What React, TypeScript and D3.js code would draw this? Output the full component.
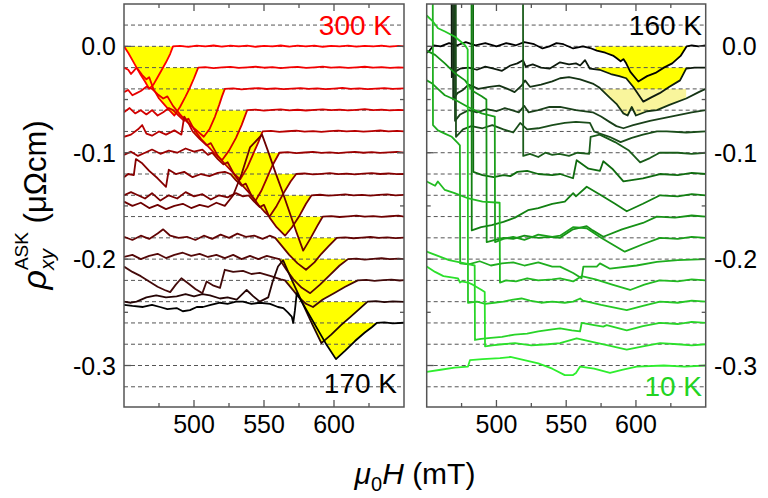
import React from "react";
import * as d3 from "d3";

type P = [number, number];

// ---------- axes / labels ----------
const xMajor = [500, 550, 600];
const xMinor = [475, 525, 575, 625];
const yMajor = [0, -0.1, -0.2, -0.3];
const yTickLabels = ["0.0", "-0.1", "-0.2", "-0.3"];
const dashLevels = [0.02, 0, -0.02, -0.04, -0.06, -0.08, -0.1, -0.12, -0.14, -0.16, -0.18, -0.2, -0.22, -0.24, -0.26, -0.28, -0.3, -0.32];

// ---------- left panel (300 K ... 170 K) ----------
const leftTemps = [300, 290, 280, 270, 260, 250, 240, 230, 220, 210, 200, 190, 180, 170];
const leftBase = [0, -0.02, -0.04, -0.06, -0.08, -0.1, -0.12, -0.14, -0.16, -0.18, -0.2, -0.22, -0.24, -0.26];
const leftColors = ["#ff0000", "#f20000", "#e60000", "#d40000", "#b80000", "#9a0000", "#860000", "#780000", "#6e0000", "#620404", "#540808", "#440a0a", "#260505", "#000000"];
const leftFillFrom = [450, 459, 470, 485, 499, 513, 526, 539, 552, 558, 561, 565, 572, 580];
const leftFillTo = [485, 503, 522, 538, 549, 561, 573, 584, 592, 602, 610, 617, 624, 631];

const L300: P[] = [[450,0.0],[453,-0.006],[456,-0.013],[459,-0.02],[462,-0.027],[465,-0.033],[468,-0.04],[471,-0.036],[474,-0.029],[477,-0.022],[480,-0.015],[483,-0.007],[485,0.0],[490,0.0005],[496,-0.0005],[502,0.0007],[508,0.0],[514,0.0008],[520,-0.0003],[526,0.0006],[532,0.0],[538,0.0007],[544,-0.0004],[550,0.0005],[556,0.0],[562,0.0008],[568,-0.0002],[574,0.0006],[580,0.0],[586,0.0007],[592,-0.0004],[598,0.0005],[604,0.0],[610,0.0006],[616,-0.0003],[622,0.0005],[628,0.0],[634,0.0007],[640,-0.0002],[646,0.0004],[650,0.0]];
const L290: P[] = [[450,-0.02],[453,-0.022],[455,-0.026],[457,-0.023],[459,-0.02],[463,-0.027],[466,-0.031],[468,-0.029],[471,-0.04],[475,-0.049],[479,-0.055],[483,-0.061],[486,-0.065],[490,-0.057],[494,-0.047],[497,-0.039],[500,-0.03],[503,-0.02],[508,-0.0195],[514,-0.0205],[520,-0.0198],[526,-0.0193],[532,-0.0203],[538,-0.0197],[544,-0.0192],[550,-0.0201],[556,-0.0196],[562,-0.0204],[568,-0.0198],[574,-0.0193],[580,-0.0202],[586,-0.0197],[592,-0.0191],[598,-0.02],[604,-0.0195],[610,-0.0203],[616,-0.0197],[622,-0.0192],[628,-0.02],[634,-0.0196],[640,-0.0202],[646,-0.0197],[650,-0.02]];
const L280: P[] = [[450,-0.043],[453,-0.041],[456,-0.046],[459,-0.044],[462,-0.042],[466,-0.038],[470,-0.04],[474,-0.045],[478,-0.049],[481,-0.047],[485,-0.056],[490,-0.064],[495,-0.071],[500,-0.077],[507,-0.085],[511,-0.078],[515,-0.066],[518,-0.055],[520,-0.047],[522,-0.04],[528,-0.0395],[534,-0.0404],[540,-0.0398],[546,-0.0392],[552,-0.0401],[558,-0.0396],[564,-0.0403],[570,-0.0397],[576,-0.0392],[582,-0.04],[588,-0.0395],[594,-0.0402],[600,-0.0397],[606,-0.0391],[612,-0.04],[618,-0.0395],[624,-0.0402],[630,-0.0397],[636,-0.0393],[642,-0.04],[650,-0.0396]];
const L270: P[] = [[450,-0.062],[454,-0.058],[458,-0.063],[462,-0.06],[466,-0.064],[470,-0.06],[474,-0.065],[478,-0.062],[482,-0.058],[485,-0.06],[489,-0.065],[493,-0.07],[496,-0.068],[500,-0.078],[505,-0.087],[510,-0.094],[515,-0.101],[520,-0.107],[525,-0.098],[530,-0.086],[534,-0.074],[538,-0.06],[544,-0.0595],[550,-0.0604],[556,-0.0598],[562,-0.0592],[568,-0.0601],[574,-0.0596],[580,-0.0603],[586,-0.0597],[592,-0.0592],[598,-0.06],[604,-0.0595],[610,-0.0602],[616,-0.0597],[622,-0.0591],[628,-0.06],[634,-0.0595],[640,-0.0602],[646,-0.0597],[650,-0.06]];
const L260: P[] = [[450,-0.085],[455,-0.083],[460,-0.078],[463,-0.074],[466,-0.082],[470,-0.084],[475,-0.08],[480,-0.083],[486,-0.079],[491,-0.083],[493,-0.066],[496,-0.072],[499,-0.08],[504,-0.087],[509,-0.093],[512,-0.091],[517,-0.103],[523,-0.112],[528,-0.119],[533,-0.125],[538,-0.114],[542,-0.102],[546,-0.09],[549,-0.08],[555,-0.0795],[561,-0.0804],[567,-0.0798],[573,-0.0792],[579,-0.0801],[585,-0.0796],[591,-0.0803],[597,-0.0797],[603,-0.0792],[609,-0.08],[615,-0.0795],[621,-0.0802],[627,-0.0797],[633,-0.0791],[639,-0.08],[645,-0.0795],[650,-0.08]];
const L250: P[] = [[450,-0.102],[455,-0.099],[460,-0.103],[465,-0.1],[470,-0.097],[476,-0.101],[482,-0.098],[488,-0.1],[494,-0.096],[500,-0.099],[506,-0.097],[510,-0.102],[513,-0.1],[517,-0.106],[521,-0.111],[524,-0.109],[529,-0.121],[534,-0.13],[539,-0.137],[544,-0.145],[548,-0.136],[552,-0.124],[556,-0.112],[561,-0.1],[567,-0.0995],[573,-0.1004],[579,-0.0998],[585,-0.0992],[591,-0.1001],[597,-0.0996],[603,-0.1003],[609,-0.0997],[615,-0.0992],[621,-0.1],[627,-0.0995],[633,-0.1002],[639,-0.0997],[645,-0.0992],[650,-0.1]];
const L240: P[] = [[450,-0.123],[453,-0.12],[457,-0.121],[458.5,-0.106],[463,-0.11],[468,-0.117],[474,-0.124],[480,-0.132],[482,-0.116],[487,-0.12],[493,-0.118],[499,-0.123],[505,-0.12],[511,-0.122],[517,-0.119],[522,-0.118],[526,-0.12],[530,-0.126],[534,-0.131],[537,-0.129],[541,-0.14],[546,-0.149],[550,-0.155],[554,-0.16],[559,-0.15],[564,-0.138],[569,-0.127],[573,-0.12],[579,-0.1195],[585,-0.1204],[591,-0.1198],[597,-0.1192],[603,-0.1201],[609,-0.1196],[615,-0.1203],[621,-0.1197],[627,-0.1192],[633,-0.12],[639,-0.1195],[645,-0.1202],[650,-0.12]];
const L230: P[] = [[450,-0.14],[455,-0.137],[460,-0.14],[465,-0.143],[470,-0.138],[476,-0.145],[482,-0.14],[488,-0.143],[494,-0.137],[500,-0.141],[506,-0.139],[512,-0.144],[518,-0.14],[524,-0.142],[530,-0.138],[535,-0.141],[539,-0.14],[543,-0.146],[547,-0.151],[550,-0.149],[554,-0.161],[559,-0.17],[565,-0.178],[570,-0.17],[575,-0.16],[580,-0.148],[584,-0.14],[590,-0.1395],[596,-0.1404],[602,-0.1398],[608,-0.1392],[614,-0.1401],[620,-0.1396],[626,-0.1403],[632,-0.1397],[638,-0.1392],[644,-0.14],[650,-0.1396]];
const L220: P[] = [[450,-0.146],[456,-0.15],[462,-0.147],[468,-0.152],[474,-0.149],[480,-0.153],[486,-0.15],[492,-0.148],[498,-0.152],[504,-0.149],[510,-0.151],[516,-0.147],[522,-0.15],[528,-0.14],[534,-0.12],[540,-0.095],[548.6,-0.083],[553,-0.099],[558,-0.118],[563,-0.136],[568,-0.155],[573,-0.174],[578,-0.192],[583,-0.181],[588,-0.169],[592,-0.16],[598,-0.1595],[604,-0.1604],[610,-0.1598],[616,-0.1592],[622,-0.1601],[628,-0.1596],[634,-0.1603],[640,-0.1597],[646,-0.1592],[650,-0.16]];
const L210: P[] = [[450,-0.179],[456,-0.182],[462,-0.178],[468,-0.181],[474,-0.176],[478,-0.172],[483,-0.178],[489,-0.18],[495,-0.179],[501,-0.182],[507,-0.178],[513,-0.181],[519,-0.177],[525,-0.18],[531,-0.176],[537,-0.179],[543,-0.178],[549,-0.181],[554,-0.178],[558,-0.18],[563,-0.188],[568,-0.196],[574,-0.204],[580,-0.21],[586,-0.203],[591,-0.195],[596,-0.188],[602,-0.18],[608,-0.1795],[614,-0.1804],[620,-0.1798],[626,-0.1792],[632,-0.1801],[638,-0.1796],[644,-0.1803],[650,-0.1797]];
const L200: P[] = [[450,-0.198],[456,-0.196],[462,-0.2],[468,-0.197],[474,-0.195],[480,-0.199],[486,-0.196],[492,-0.194],[498,-0.197],[504,-0.195],[510,-0.198],[516,-0.196],[522,-0.199],[528,-0.196],[534,-0.2],[540,-0.197],[546,-0.2],[552,-0.197],[558,-0.199],[561,-0.2],[566,-0.21],[571,-0.219],[577,-0.227],[583,-0.232],[590,-0.224],[597,-0.215],[604,-0.206],[610,-0.2],[616,-0.1995],[622,-0.2004],[628,-0.1998],[634,-0.1992],[640,-0.2001],[646,-0.1996],[650,-0.2]];
const L190: P[] = [[450,-0.207],[456,-0.212],[462,-0.216],[468,-0.221],[474,-0.226],[479,-0.229],[483,-0.231],[487,-0.224],[491,-0.218],[496,-0.223],[501,-0.228],[506,-0.232],[509,-0.221],[514,-0.225],[518.6,-0.227],[522,-0.21],[528,-0.212],[535,-0.211],[541,-0.214],[547,-0.213],[555,-0.216],[562,-0.219],[565,-0.22],[570,-0.228],[575,-0.236],[580,-0.242],[585,-0.245],[592,-0.238],[600,-0.232],[608,-0.226],[617,-0.22],[623,-0.2195],[629,-0.2204],[635,-0.2198],[641,-0.2192],[647,-0.2201],[650,-0.2197]];
const L180: P[] = [[450,-0.24],[455,-0.241],[459,-0.24],[466,-0.236],[473,-0.234],[480,-0.236],[487.6,-0.235],[494,-0.233],[500,-0.235],[506,-0.233],[511.4,-0.234],[518.6,-0.237],[524,-0.236],[530.5,-0.238],[537.6,-0.229],[542.4,-0.235],[547,-0.24],[553,-0.236],[556,-0.222],[560,-0.207],[563.6,-0.201],[570,-0.22],[577,-0.24],[584,-0.26],[591,-0.279],[598,-0.271],[605,-0.262],[612,-0.254],[618,-0.247],[624,-0.24],[630,-0.2395],[636,-0.2404],[642,-0.2398],[650,-0.2402]];
const L170: P[] = [[450,-0.243],[456,-0.244],[463.6,-0.245],[470,-0.243],[475.7,-0.245],[481,-0.247],[487.6,-0.246],[492,-0.249],[497.1,-0.248],[502,-0.245],[506.4,-0.245],[512,-0.243],[518.6,-0.241],[524,-0.242],[530,-0.24],[535,-0.24],[541,-0.242],[547,-0.241],[554.3,-0.242],[560,-0.245],[563.8,-0.246],[567,-0.25],[569.8,-0.254],[570.9,-0.26],[572.1,-0.248],[573.4,-0.232],[580,-0.247],[587,-0.263],[594,-0.279],[601.4,-0.294],[608,-0.286],[615,-0.277],[622,-0.269],[627,-0.264],[630.5,-0.26],[636,-0.2595],[642,-0.2604],[650,-0.2598]];
const leftCurves = [L300, L290, L280, L270, L260, L250, L240, L230, L220, L210, L200, L190, L180, L170];

// ---------- right panel (160 K ... 10 K) ----------
const rightTemps = [160, 150, 140, 130, 120, 110, 100, 90, 80, 70, 60, 50, 40, 30, 20, 10];
const rightBase = [0, -0.02, -0.04, -0.06, -0.08, -0.1, -0.12, -0.14, -0.16, -0.18, -0.2, -0.22, -0.24, -0.26, -0.28, -0.3];
const rightColors = ["#000000", "#0d1a0d", "#143314", "#1a401a", "#1a4d1a", "#1a5c1a", "#0f6b0f", "#128012", "#169116", "#1a9e1a", "#1fae1f", "#22bb22", "#25c825", "#28d428", "#2be02b", "#2eee2e"];
const rightFillIdx = [0, 1, 2];
const rightFillFrom = [571, 572, 571];
const rightFillTo = [637, 637, 636];
const rightFillColors = ["#ffff00", "#ffff00", "#f9f59c"];

const R160: P[] = [[450,-0.006],[452,-0.004],[455,0.001],[460,0.0],[466,0.003],[472,0.001],[478,0.004],[485,0.001],[492,0.003],[500,0.0],[507,0.003],[514,0.001],[520,0.004],[527,0.002],[533,-0.002],[538,0.0],[543,0.003],[548,0.002],[555,-0.002],[562,0.0],[568,-0.002],[572,-0.004],[578,-0.006],[584,-0.009],[586,-0.011],[589,-0.014],[591,-0.012],[593,-0.016],[596,-0.024],[601.7,-0.033],[608,-0.028],[614,-0.025],[620,-0.02],[626,-0.016],[632,-0.009],[636.4,0.0],[640,0.001],[645,0.0],[650,0.001]];
const R150: P[] = [[450,0.09],[467.8,0.09],[468,-0.029],[470,-0.024],[474,-0.021],[480,-0.02],[486,-0.022],[492,-0.019],[498,-0.021],[504,-0.023],[510,-0.018],[515,-0.016],[519,-0.013],[521,-0.019],[526,-0.017],[532,-0.02],[538,-0.021],[545.6,-0.015],[552,-0.017],[557,-0.016],[560,-0.018],[563.5,-0.013],[567,-0.021],[574,-0.022],[582,-0.026],[588,-0.028],[593,-0.03],[598,-0.038],[605.3,-0.052],[611,-0.048],[617,-0.044],[624,-0.038],[631.6,-0.032],[636,-0.021],[642,-0.02],[650,-0.02]];
const R140: P[] = [[450,0.09],[468.8,0.09],[469,-0.05],[472,-0.044],[476,-0.041],[480,-0.036],[487,-0.04],[495,-0.038],[502,-0.037],[508,-0.04],[513,-0.043],[518,-0.037],[520.5,-0.032],[524,-0.038],[532,-0.036],[540,-0.033],[545.6,-0.03],[552,-0.029],[560,-0.031],[569,-0.035],[574,-0.039],[581,-0.048],[586,-0.054],[591,-0.063],[594,-0.065],[597,-0.057],[600,-0.065],[608,-0.061],[615,-0.06],[624,-0.055],[636,-0.049],[645,-0.043],[650,-0.04]];
const R130: P[] = [[450,0.09],[470.1,0.09],[470.3,-0.07],[474,-0.064],[480,-0.06],[486,-0.062],[493,-0.059],[500,-0.061],[506,-0.058],[511,-0.06],[516,-0.062],[520,-0.056],[523,-0.062],[530,-0.06],[538,-0.057],[545.6,-0.057],[557,-0.06],[569,-0.062],[575,-0.066],[581,-0.071],[586,-0.075],[591,-0.077],[598,-0.074],[610,-0.07],[625,-0.066],[640,-0.062],[650,-0.06]];
const R120: P[] = [[450,0.09],[470.8,0.09],[471,-0.085],[476,-0.078],[482,-0.075],[490,-0.077],[497,-0.074],[505,-0.078],[512,-0.081],[517,-0.072],[522,-0.078],[530,-0.077],[540,-0.074],[549,-0.072],[557,-0.071],[567,-0.072],[570,-0.08],[572,-0.081],[581,-0.085],[589,-0.09],[597,-0.086],[605,-0.083],[615,-0.08],[622,-0.08],[636,-0.081],[650,-0.08]];
const R110: P[] = [[450,0.09],[519,0.09],[519.2,-0.103],[524,-0.101],[530,-0.104],[535,-0.1],[540,-0.102],[545,-0.101],[552,-0.103],[558,-0.1],[566.5,-0.101],[567.5,-0.085],[574,-0.083],[585,-0.09],[595,-0.098],[603,-0.109],[610,-0.105],[617,-0.1],[630,-0.1],[640,-0.101],[650,-0.1]];
const R100: P[] = [[450,0.09],[483.2,0.09],[483.4,-0.118],[490,-0.121],[498,-0.123],[505,-0.121],[510,-0.122],[515,-0.118],[522,-0.117],[530,-0.12],[540,-0.121],[545.6,-0.12],[554.9,-0.124],[557.5,-0.107],[566,-0.115],[574.2,-0.117],[576.6,-0.108],[583,-0.115],[591,-0.127],[605,-0.124],[617.3,-0.12],[630,-0.121],[640,-0.119],[650,-0.12]];
const R90: P[] = [[450,0.09],[482.1,0.09],[482.3,-0.173],[489,-0.17],[496.6,-0.168],[505,-0.165],[513.3,-0.161],[522.6,-0.154],[530,-0.152],[540,-0.148],[549,-0.146],[555,-0.138],[557,-0.141],[564.7,-0.132],[575,-0.14],[585,-0.148],[593.4,-0.155],[605,-0.148],[617.3,-0.14],[630,-0.141],[640,-0.139],[650,-0.14]];
const R80: P[] = [[450,-0.004],[456,-0.008],[463,-0.016],[470,-0.025],[477.5,-0.032],[483,-0.042],[489.4,-0.047],[492.8,-0.05],[493,-0.184],[499,-0.182],[505,-0.18],[512,-0.181],[520,-0.178],[530,-0.18],[538,-0.179],[545.6,-0.18],[554.9,-0.172],[564.7,-0.169],[569,-0.173],[576.6,-0.179],[590,-0.172],[605,-0.166],[614.9,-0.16],[628,-0.161],[640,-0.159],[650,-0.16]];
const R70: P[] = [[450,-0.032],[454,-0.035],[458,-0.04],[463,-0.046],[470,-0.05],[479.6,-0.057],[489.4,-0.063],[498.8,-0.066],[499,-0.184],[505,-0.181],[512,-0.179],[520,-0.182],[530,-0.177],[540,-0.179],[545.6,-0.178],[554.9,-0.17],[564.7,-0.171],[575,-0.18],[592,-0.193],[605,-0.186],[617.3,-0.18],[630,-0.181],[640,-0.179],[650,-0.18]];
const R60: P[] = [[450,0.09],[454.3,0.09],[454.5,-0.074],[458.1,-0.079],[463,-0.082],[468,-0.085],[472.4,-0.091],[473.8,-0.093],[474,-0.204],[480,-0.205],[488,-0.202],[496,-0.206],[504,-0.204],[512,-0.203],[520,-0.206],[530,-0.203],[540,-0.207],[545.6,-0.207],[555,-0.213],[561,-0.218],[562.3,-0.207],[571.9,-0.207],[574.2,-0.204],[581.4,-0.209],[600.5,-0.206],[615,-0.2025],[630,-0.201],[650,-0.2]];
const R50: P[] = [[450,-0.127],[456,-0.131],[458,-0.127],[463,-0.135],[470,-0.138],[480,-0.143],[490,-0.146],[502.3,-0.147],[502.5,-0.222],[507,-0.22],[514,-0.221],[522,-0.218],[530,-0.22],[540,-0.219],[545.6,-0.218],[555,-0.221],[561,-0.216],[571,-0.219],[583,-0.224],[595.8,-0.229],[606,-0.224],[617,-0.22],[630,-0.221],[640,-0.219],[650,-0.22]];
const R40: P[] = [[450,0.029],[454,0.024],[458.1,0.017],[463.1,0.014],[470.3,0.009],[477.5,0.001],[479.4,-0.003],[479.6,-0.241],[486,-0.24],[492,-0.242],[498.3,-0.241],[505,-0.24],[512,-0.238],[518,-0.237],[524,-0.239],[532,-0.241],[540,-0.24],[549,-0.241],[555,-0.24],[560,-0.237],[562,-0.239],[575,-0.243],[593.4,-0.248],[605,-0.244],[617.3,-0.24],[630,-0.241],[640,-0.239],[650,-0.24]];
const R30: P[] = [[450,-0.193],[458,-0.197],[466,-0.201],[473.9,-0.203],[477.5,-0.204],[484.4,-0.206],[484.6,-0.276],[489,-0.275],[496,-0.274],[504,-0.273],[513,-0.271],[522,-0.27],[530,-0.268],[540,-0.266],[545.6,-0.265],[554,-0.267],[559.9,-0.268],[561.1,-0.26],[570,-0.262],[576.6,-0.2635],[579,-0.262],[593.4,-0.267],[605,-0.263],[617.3,-0.26],[630,-0.261],[640,-0.259],[650,-0.26]];
const R20: P[] = [[450,-0.207],[456,-0.212],[462,-0.216],[472.4,-0.218],[473.9,-0.222],[475,-0.221],[479.6,-0.222],[483,-0.224],[489.4,-0.229],[491.6,-0.231],[491.8,-0.282],[497,-0.281],[504,-0.28],[513.3,-0.279],[525,-0.281],[537,-0.28],[545.6,-0.279],[557.5,-0.2745],[569.4,-0.278],[580,-0.281],[593.4,-0.285],[605,-0.282],[617.3,-0.279],[630,-0.28],[640,-0.281],[650,-0.28]];
const R10: P[] = [[450,-0.306],[460,-0.304],[470,-0.302],[479.6,-0.301],[481,-0.295],[490,-0.294],[502.5,-0.293],[510,-0.292],[520,-0.295],[530,-0.298],[540,-0.303],[549,-0.309],[554.9,-0.309],[557,-0.307],[560,-0.301],[570,-0.303],[581.4,-0.307],[590,-0.304],[600.5,-0.301],[620,-0.3],[635,-0.301],[650,-0.3]];
const rightCurves = [R160, R150, R140, R130, R120, R110, R100, R90, R80, R70, R60, R50, R40, R30, R20, R10];

// ---------- layout ----------
const PY0 = 4, PY1 = 407;
const LX0 = 124, LX1 = 404;
const RX0 = 426.7, RX1 = 705.7;
const FONT = "'Liberation Sans', Arial, sans-serif";

const yS = d3.scaleLinear().domain([0.0398, -0.339]).range([PY0, PY1]);

function Panel(props: {
  id: string; x0: number; x1: number; curves: P[][]; colors: string[]; base: number[];
  fills: { k: number; h0: number; h1: number; color: string }[];
}) {
  const { id, x0, x1, curves, colors, base, fills } = props;
  const xS = d3.scaleLinear().domain([450, 650]).range([x0, x1]);
  const line = d3.line<P>().x(d => xS(d[0])).y(d => yS(d[1]));
  const yTicksMinor = [0.0, -0.05, -0.1, -0.15, -0.2, -0.25, -0.3];
  return (
    <g>
      <defs>
        <clipPath id={`${id}-clip`}>
          <rect x={x0} y={PY0} width={x1 - x0} height={PY1 - PY0} />
        </clipPath>
        {fills.map((f, i) => (
          <clipPath key={i} id={`${id}-fc${i}`}>
            <rect x={xS(f.h0)} y={yS(base[f.k])} width={xS(f.h1) - xS(f.h0)} height={PY1 - yS(base[f.k])} />
          </clipPath>
        ))}
      </defs>
      <g clipPath={`url(#${id}-clip)`}>
        {fills.map((f, i) => {
          const area = d3.area<P>().x(d => xS(d[0])).y0(yS(base[f.k])).y1(d => yS(d[1]));
          return <path key={i} d={area(curves[f.k]) || ""} fill={f.color} stroke="none" clipPath={`url(#${id}-fc${i})`} />;
        })}
        {dashLevels.map((v, i) => (
          <line key={i} x1={x0} x2={x1} y1={yS(v)} y2={yS(v)} stroke="#555" strokeWidth={1} strokeDasharray="4,3" />
        ))}
        {curves.map((c, i) => (
          <path key={i} d={line(c) || ""} fill="none" stroke={colors[i]} strokeWidth={1.8} strokeLinejoin="round" />
        ))}
      </g>
      <rect x={x0} y={PY0} width={x1 - x0} height={PY1 - PY0} fill="none" stroke="#555" strokeWidth={1.5} />
      {xMajor.map(v => (
        <g key={v}>
          <line x1={xS(v)} x2={xS(v)} y1={PY1} y2={PY1 - 7} stroke="#555" strokeWidth={1.3} />
          <line x1={xS(v)} x2={xS(v)} y1={PY0} y2={PY0 + 7} stroke="#555" strokeWidth={1.3} />
          <text x={xS(v)} y={433} textAnchor="middle" fontFamily={FONT} fontSize={25} fill="#000">{v}</text>
        </g>
      ))}
      {xMinor.map(v => (
        <g key={v}>
          <line x1={xS(v)} x2={xS(v)} y1={PY1} y2={PY1 - 4} stroke="#555" strokeWidth={1.3} />
          <line x1={xS(v)} x2={xS(v)} y1={PY0} y2={PY0 + 4} stroke="#555" strokeWidth={1.3} />
        </g>
      ))}
      {yTicksMinor.map((v, i) => {
        const len = i % 2 === 0 ? 7 : 4;
        return (
          <g key={i}>
            <line x1={x0} x2={x0 + len} y1={yS(v)} y2={yS(v)} stroke="#555" strokeWidth={1.3} />
            <line x1={x1} x2={x1 - len} y1={yS(v)} y2={yS(v)} stroke="#555" strokeWidth={1.3} />
          </g>
        );
      })}
    </g>
  );
}

export default function App() {
  const leftFills = leftCurves.map((_, k) => ({ k, h0: leftFillFrom[k], h1: leftFillTo[k], color: "#ffff00" }));
  const rightFills = rightFillIdx.map((k, i) => ({ k, h0: rightFillFrom[i], h1: rightFillTo[i], color: rightFillColors[i] }));
  return (
    <svg width={768} height={498} style={{ display: "block", position: "absolute", left: 0, top: 0 }}>
      <rect x={0} y={0} width={768} height={498} fill="#fff" />
      <Panel id="L" x0={LX0} x1={LX1} curves={leftCurves} colors={leftColors} base={leftBase} fills={leftFills} />
      <Panel id="R" x0={RX0} x1={RX1} curves={rightCurves} colors={rightColors} base={rightBase} fills={rightFills} />
      {yMajor.map((v, i) => (
        <g key={i}>
          <text x={116} y={yS(v)} dy="0.36em" textAnchor="end" fontFamily={FONT} fontSize={25}>{yTickLabels[i]}</text>
          <text x={v === 0 ? 722 : 714} y={yS(v)} dy="0.36em" textAnchor="start" fontFamily={FONT} fontSize={25}>{yTickLabels[i]}</text>
        </g>
      ))}
      <text x={392} y={35} textAnchor="end" fontFamily={FONT} fontSize={28} fill="#ff0000">{leftTemps[0]} K</text>
      <text x={397} y={393} textAnchor="end" fontFamily={FONT} fontSize={28} fill="#000">{leftTemps[13]} K</text>
      <text x={702} y={35} textAnchor="end" fontFamily={FONT} fontSize={28} fill="#000">{rightTemps[0]} K</text>
      <text x={702} y={396} textAnchor="end" fontFamily={FONT} fontSize={28} fill="#22d422">{rightTemps[15]} K</text>
      <text x={415} y={484} textAnchor="middle" fontFamily={FONT} fontSize={30}>
        <tspan fontStyle="italic">μ</tspan>
        <tspan fontSize={20} dy={7}>0</tspan>
        <tspan fontStyle="italic" dy={-7}>H</tspan>
        <tspan> (mT)</tspan>
      </text>
      <text transform="translate(46,205) rotate(-90)" textAnchor="middle" fontFamily={FONT} fontSize={31}>
        <tspan fontStyle="italic" fontSize={34}>ρ</tspan>
        <tspan fontStyle="italic" fontSize={21} dy={8}>xy</tspan>
        <tspan fontSize={19} dx={-21} dy={-26}>ASK</tspan>
        <tspan dy={18}> (μΩcm)</tspan>
      </text>
    </svg>
  );
}
